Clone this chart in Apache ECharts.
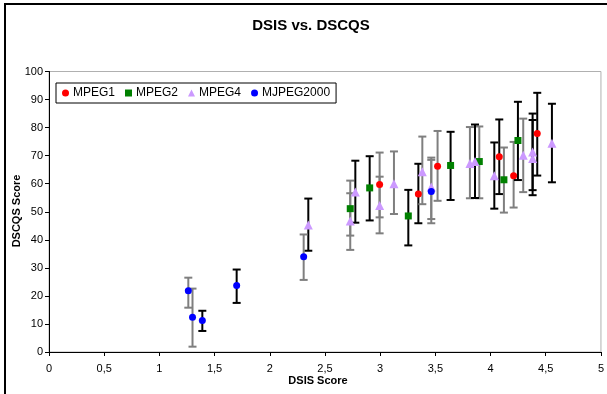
<!DOCTYPE html>
<html>
<head>
<meta charset="utf-8">
<script src="https://cdn.jsdelivr.net/npm/echarts@6/dist/echarts.min.js"></script>
<style>
  html, body { margin: 0; padding: 0; background: #fff; }
  #chart { width: 607px; height: 394px; }
</style>
</head>
<body>
<div id="chart"></div>
<script>
// Each row: [DSIS score, DSCQS score, lower bound, upper bound, bar shade (0 = black, 1 = grey)]
const mpeg1 = [
  [2.995, 59.7, 42.3, 71.1, 1],
  [3.346, 56.3, 45.9, 67.1, 0],
  [3.52, 66.2, 53.9, 78.8, 1],
  [4.079, 69.6, 56.3, 82.9, 0],
  [4.209, 62.8, 51.5, 74.9, 1],
  [4.423, 77.9, 62.9, 92.4, 0]
];
const mpeg2 = [
  [2.729, 51.1, 36.4, 61.1, 1],
  [2.905, 58.5, 46.9, 69.8, 0],
  [3.255, 48.5, 38.0, 57.8, 0],
  [3.638, 66.5, 54.2, 78.5, 0],
  [3.898, 67.9, 54.8, 80.4, 1],
  [4.121, 61.4, 49.7, 72.9, 1],
  [4.248, 75.4, 61.3, 89.2, 0]
];
const mpeg4 = [
  [2.349, 45.3, 36.1, 54.7, 0],
  [2.729, 46.7, 41.5, 56.6, 1],
  [2.775, 57.0, 46.1, 68.2, 0],
  [2.995, 52.2, 48.0, 62.5, 1],
  [3.125, 60.0, 49.2, 71.5, 1],
  [3.382, 64.3, 52.7, 76.8, 1],
  [3.463, 58.8, 47.4, 68.5, 1],
  [3.813, 67.2, 54.8, 80.2, 1],
  [3.859, 67.9, 54.9, 81.1, 0],
  [4.034, 62.8, 51.1, 74.7, 0],
  [4.296, 70.1, 57.0, 83.2, 1],
  [4.381, 71.3, 57.7, 85.0, 0],
  [4.381, 69.0, 55.9, 82.7, 0],
  [4.556, 74.4, 60.5, 88.5, 0]
];
const mjpeg2000 = [
  [1.262, 21.8, 15.8, 26.5, 1],
  [1.30, 12.4, 1.9, 22.6, 1],
  [1.389, 11.2, 7.5, 14.7, 0],
  [1.70, 23.7, 17.5, 29.4, 0],
  [2.307, 34.0, 25.7, 41.9, 1],
  [3.463, 57.2, 45.9, 69.3, 1]
];

const seriesNames = ['MPEG1', 'MPEG2', 'MPEG4', 'MJPEG2000'];
const seriesColors = ['#ff0000', '#008000', '#cc99ff', '#0000ff'];
const seriesSymbols = ['circle', 'rect', 'triangle', 'circle'];
const seriesSizes = [7, 7, 9, 7];
const seriesData = [mpeg1, mpeg2, mpeg4, mjpeg2000];

const FONT = '"Liberation Sans", Arial, sans-serif';

// vertical error bar with short caps
function renderErrorBar(params, api) {
  const x = api.value(0);
  const lo = api.coord([x, api.value(1)]);
  const hi = api.coord([x, api.value(2)]);
  const shade = api.value(3) ? '#7f7f7f' : '#000000';
  const cap = 4;
  const style = { stroke: shade, lineWidth: 2 };
  return {
    type: 'group',
    children: [
      { type: 'line', shape: { x1: lo[0], y1: lo[1], x2: hi[0], y2: hi[1] }, style },
      { type: 'line', shape: { x1: lo[0] - cap, y1: lo[1], x2: lo[0] + cap, y2: lo[1] }, style },
      { type: 'line', shape: { x1: hi[0] - cap, y1: hi[1], x2: hi[0] + cap, y2: hi[1] }, style }
    ]
  };
}

const series = [];
seriesData.forEach((rows, i) => {
  series.push({
    type: 'custom',
    name: seriesNames[i] + ' range',
    renderItem: renderErrorBar,
    data: rows.map(r => [r[0], r[2], r[3], r[4]]),
    encode: { x: 0, y: [1, 2] },
    z: 2,
    silent: true
  });
});
seriesData.forEach((rows, i) => {
  series.push({
    type: 'scatter',
    name: seriesNames[i],
    symbol: seriesSymbols[i],
    symbolSize: seriesSizes[i],
    itemStyle: { color: seriesColors[i], opacity: 1 },
    data: rows.map(r => [r[0], r[1]]),
    z: 5
  });
});

const chart = echarts.init(document.getElementById('chart'), null, { renderer: 'canvas' });
chart.setOption({
  animation: false,
  backgroundColor: '#ffffff',
  textStyle: { fontFamily: FONT },
  grid: {
    left: 49, right: 6, top: 71.5, bottom: 42,
    show: true, borderColor: '#b0b0b0', borderWidth: 1, backgroundColor: '#ffffff'
  },
  legend: {
    data: seriesNames,
    left: 56, top: 83,
    orient: 'horizontal',
    itemWidth: 7, itemHeight: 7, itemGap: 10,
    padding: [4, 6, 4, 6],
    borderColor: '#000', borderWidth: 1, backgroundColor: '#fff',
    textStyle: { fontFamily: FONT, fontSize: 12, color: '#000', padding: [0, 0, 0, -1] },
    z: 10
  },
  xAxis: {
    type: 'value', min: 0, max: 5, interval: 0.5,
    axisLine: { show: true, onZero: false, lineStyle: { color: '#000', width: 1 } },
    axisTick: { show: true, length: 4, lineStyle: { color: '#000' } },
    splitLine: { show: false },
    axisLabel: {
      margin: 11, fontSize: 11, color: '#000', fontFamily: FONT,
      formatter: v => String(v).replace('.', ',')
    }
  },
  yAxis: {
    type: 'value', min: 0, max: 100, interval: 10,
    axisLine: { show: true, lineStyle: { color: '#000', width: 1 } },
    axisTick: { show: true, length: 4, lineStyle: { color: '#000' } },
    splitLine: { show: false },
    axisLabel: { margin: 6, fontSize: 11, color: '#000', fontFamily: FONT }
  },
  graphic: [
    {
      type: 'rect', z: -10, silent: true,
      shape: { x: 5, y: 4, width: 640, height: 420 },
      style: { fill: 'none', stroke: '#000', lineWidth: 2 }
    },
    {
      type: 'text', x: 311, y: 26, silent: true,
      style: { text: 'DSIS vs. DSCQS', font: 'bold 15px ' + FONT, fill: '#000', align: 'center', verticalAlign: 'middle' }
    },
    {
      type: 'text', x: 318, y: 381, silent: true,
      style: { text: 'DSIS Score', font: 'bold 11px ' + FONT, fill: '#000', align: 'center', verticalAlign: 'middle' }
    },
    {
      type: 'text', x: 17, y: 211, rotation: Math.PI / 2, silent: true,
      style: { text: 'DSCQS Score', font: 'bold 11px ' + FONT, fill: '#000', align: 'center', verticalAlign: 'middle' }
    }
  ],
  series
});
</script>
</body>
</html>
